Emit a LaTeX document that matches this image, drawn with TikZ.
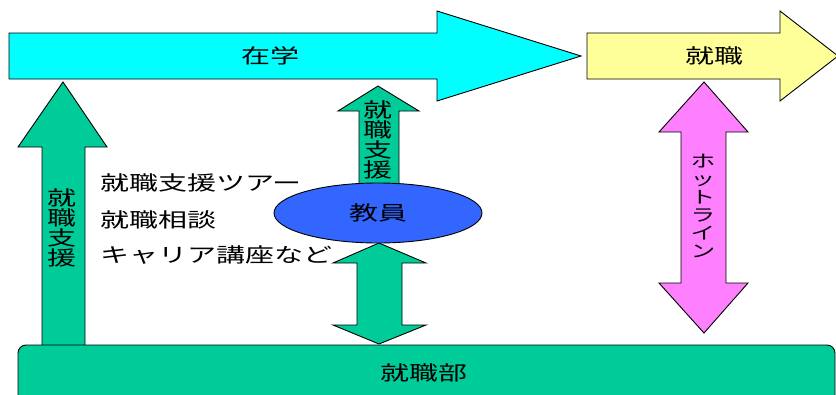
\documentclass[tikz,border=0pt]{standalone}
\usepackage{fontspec}
\newfontfamily\jp[FakeStretch=1.45]{Noto Sans CJK JP}
\definecolor{cyanA}{HTML}{00FFFF}
\definecolor{yellowA}{HTML}{FFFF99}
\definecolor{greenA}{HTML}{00CC99}
\definecolor{blueA}{HTML}{3366FF}
\definecolor{pinkA}{HTML}{FF80FF}
\tikzset{
  blk/.style={draw=black, line width=0.9pt, line join=miter},
  lbl/.style={inner sep=0pt, font={\fontsize{20}{20}\selectfont\jp}, text=black},
  vlbl/.style={lbl, align=center},
}
\begin{document}
\begin{tikzpicture}[x=1pt,y=-1pt]
\useasboundingbox (0,0) rectangle (836,394);
% top arrows
\draw[blk, fill=cyanA] (9,33) -- (437,33) -- (437,11) -- (581,56) -- (437,101) -- (437,79) -- (9,79) -- cycle;
\draw[blk, fill=yellowA] (587,33) -- (780,33) -- (780,11) -- (838,56) -- (780,101) -- (780,79) -- (587,79) -- cycle;
% left up arrow
\draw[blk, fill=greenA] (42,350) -- (42,147) -- (18,147) -- (63,82) -- (107,147) -- (85,147) -- (85,350) -- cycle;
% middle up arrow
\draw[blk, fill=greenA] (359,195) -- (359,111) -- (338,111) -- (378,86) -- (419,111) -- (399,111) -- (399,195) -- cycle;
% middle double arrow
\draw[blk, fill=greenA] (379,243) -- (426,263) -- (402,263) -- (402,325) -- (426,325) -- (379,344) -- (333,325) -- (357,325) -- (357,263) -- (333,263) -- cycle;
% pink double arrow
\draw[blk, fill=pinkA] (704,82) -- (748,132) -- (726,132) -- (726,283) -- (748,283) -- (704,333) -- (659,283) -- (681,283) -- (681,132) -- (659,132) -- cycle;
% ellipse
\draw[blk, fill=blueA] (378,213) ellipse [x radius=104, y radius=30];
% bottom box
\draw[blk, fill=greenA, rounded corners=8pt] (18,345) rectangle (835,410);
% labels
\node[lbl] (zaigaku) at (270,56) {在学};
\node[lbl] (shushoku) at (714,56) {就職};
\node[lbl] (kyoin) at (378,213) {教員};
\node[lbl] (bu) at (424,373) {就職部};
\node[vlbl] (lsup) at (62,228) {就\\職\\支\\援};
\node[vlbl] (msup) at (378,140) {就\\職\\支\\援};
\node[vlbl, font={\fontsize{17}{18}\selectfont\jp}] (hot) at (703,206) {ホ\\ッ\\ト\\ラ\\イ\\ン};
\node[lbl, anchor=west] (t1) at (100,183) {就職支援ツアー};
\node[lbl, anchor=west] (t2) at (100,220) {就職相談};
\node[lbl, anchor=west] (t3) at (100,255) {キャリア講座など};
\end{tikzpicture}
\end{document}
